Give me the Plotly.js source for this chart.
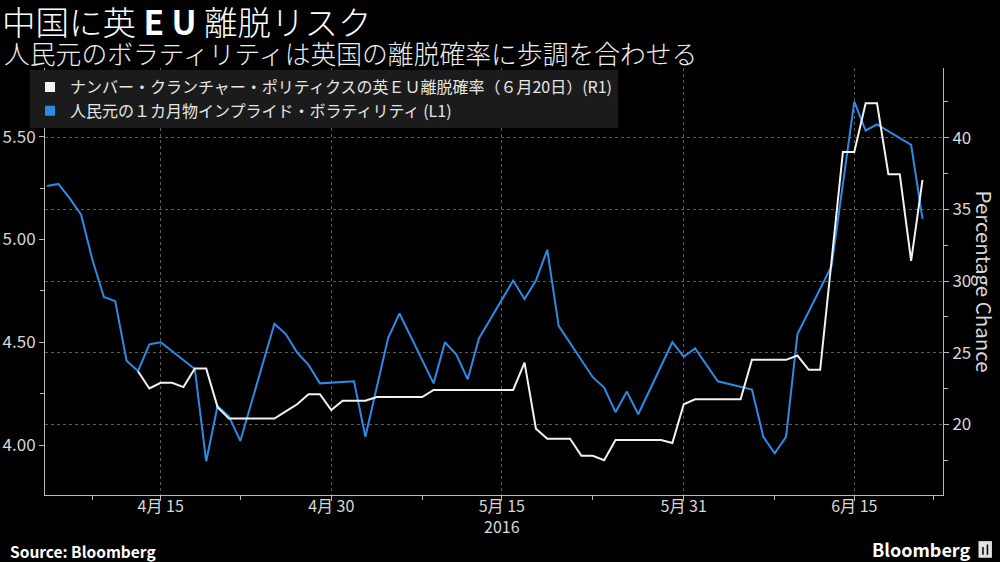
<!DOCTYPE html>
<html>
<head>
<meta charset="utf-8">
<script src="https://cdn.plot.ly/plotly-3.0.1.min.js"></script>
<style>
html,body{margin:0;padding:0;background:#000;}
#chart{width:1000px;height:562px;}
</style>
</head>
<body>
<div id="chart"></div>
<script>
// ---- data ----
const volDates = ['2016-04-05','2016-04-06','2016-04-07','2016-04-08','2016-04-09','2016-04-10','2016-04-11','2016-04-12','2016-04-13','2016-04-14','2016-04-15',
  '2016-04-18','2016-04-19','2016-04-20','2016-04-21','2016-04-22','2016-04-25','2016-04-26','2016-04-27','2016-04-28','2016-04-29',
  '2016-05-02','2016-05-03','2016-05-05','2016-05-06','2016-05-09','2016-05-10','2016-05-11','2016-05-12','2016-05-13',
  '2016-05-16','2016-05-17','2016-05-18','2016-05-19','2016-05-20','2016-05-23','2016-05-24','2016-05-25','2016-05-26','2016-05-27',
  '2016-05-30','2016-05-31','2016-06-01','2016-06-03','2016-06-06','2016-06-07','2016-06-08','2016-06-09','2016-06-10',
  '2016-06-13','2016-06-15','2016-06-16','2016-06-17','2016-06-20','2016-06-21'];
const volValues = [5.26,5.27,5.20,5.12,4.90,4.72,4.70,4.41,4.36,4.49,4.50,
  4.37,3.92,4.19,4.14,4.02,4.59,4.54,4.45,4.39,4.30,
  4.31,4.04,4.52,4.64,4.30,4.50,4.44,4.32,4.52,
  4.80,4.71,4.80,4.95,4.58,4.33,4.28,4.16,4.26,4.15,
  4.50,4.43,4.47,4.31,4.27,4.04,3.96,4.04,4.54,
  4.87,5.67,5.53,5.56,5.46,5.10];

const brexitDates = ['2016-04-13','2016-04-14','2016-04-15','2016-04-16','2016-04-17','2016-04-18','2016-04-19','2016-04-20','2016-04-21',
  '2016-04-25','2016-04-26','2016-04-27','2016-04-28','2016-04-29','2016-04-30','2016-05-01','2016-05-03','2016-05-04','2016-05-08','2016-05-09',
  '2016-05-16','2016-05-17','2016-05-18','2016-05-19','2016-05-21','2016-05-22','2016-05-23','2016-05-24','2016-05-25','2016-05-29','2016-05-30',
  '2016-05-31','2016-06-01','2016-06-05','2016-06-06','2016-06-09','2016-06-10','2016-06-11','2016-06-12','2016-06-14','2016-06-15',
  '2016-06-16','2016-06-17','2016-06-18','2016-06-19','2016-06-20','2016-06-21'];
const brexitValues = [23.7,22.5,22.9,22.9,22.6,23.9,23.9,21.2,20.4,
  20.4,20.9,21.4,22.1,22.1,21.0,21.65,21.65,21.9,21.9,22.4,
  22.4,24.3,19.7,19.0,19.0,17.8,17.8,17.5,18.9,18.9,18.7,
  21.4,21.75,21.75,24.5,24.5,24.8,23.8,23.8,39.0,39.0,
  42.4,42.4,37.45,37.45,31.4,37.05];

const xTickVals = ['2016-04-15','2016-04-30','2016-05-15','2016-05-31','2016-06-15'];
const xTickText = ['4月 15','4月 30','5月 15<br>2016','5月 31','6月 15'];
const xMinorTickVals = ['2016-04-09','2016-04-22','2016-05-08','2016-05-23','2016-06-08','2016-06-22'];
const leftTickVals = [4.00,4.50,5.00,5.50];
const leftTickText = ['4.00','4.50','5.00','5.50'];
const rightTickVals = [20,25,30,35,40];

const nameBrexit = 'ナンバー・クランチャー・ポリティクスの英ＥＵ離脱確率（６月20日）(R1)';
const nameVol = '人民元の１カ月物インプライド・ボラティリティ (L1)';

const titleText = '中国に英 <b>E U</b> 離脱リスク';
const subtitleText = '人民元のボラティリティは英国の離脱確率に歩調を合わせる';

// ---- style ----
const FONT = "'Noto Sans CJK JP', 'Noto Sans', sans-serif";
const BLUE = '#2d8be6';
const WHITE = '#f2f2f2';
const AXIS = '#b8b8b8';
const GRID = '#5a5a5a';

const traces = [
  {x: volDates, y: volValues, type: 'scatter', mode: 'lines', yaxis: 'y',
   line: {color: BLUE, width: 2}, showlegend: false, name: nameVol, hoverinfo: 'x+y'},
  {x: brexitDates, y: brexitValues, type: 'scatter', mode: 'lines', yaxis: 'y2',
   line: {color: WHITE, width: 2}, showlegend: false, name: nameBrexit, hoverinfo: 'x+y'},
  // legend swatches
  {x: [null], y: [null], type: 'scatter', mode: 'markers', yaxis: 'y2', name: nameBrexit,
   marker: {symbol: 'square', size: 10, color: WHITE}, showlegend: true},
  {x: [null], y: [null], type: 'scatter', mode: 'markers', yaxis: 'y', name: nameVol,
   marker: {symbol: 'square', size: 10, color: BLUE}, showlegend: true}
];

const layout = {
  width: 1000, height: 562,
  paper_bgcolor: '#000', plot_bgcolor: '#000',
  margin: {l: 45, r: 57, t: 68, b: 67},
  font: {family: FONT, color: '#d8d8d8', size: 15},
  title: {text: titleText, x: 0.002, xref: 'container', xanchor: 'left',
          y: 0.958, yref: 'container', yanchor: 'middle',
          font: {family: FONT, size: 33.5, color: '#ffffff', weight: 300}},
  xaxis: {type: 'date', range: ['2016-04-04 19:46', '2016-06-22 19:16'],
          tickmode: 'array', tickvals: xTickVals, ticktext: xTickText,
          showgrid: true, gridcolor: GRID, griddash: 'dot', gridwidth: 1,
          showline: true, linecolor: AXIS, linewidth: 1,
          ticks: 'outside', ticklen: 5, tickcolor: AXIS, ticklabelstandoff: -8,
          minor: {tickmode: 'array', tickvals: xMinorTickVals, ticks: 'outside', ticklen: 4, tickcolor: AXIS, showgrid: false},
          tickfont: {family: FONT, size: 16, color: '#d8d8d8'},
          zeroline: false, fixedrange: true},
  yaxis: {range: [3.757, 5.834], tickmode: 'array', tickvals: leftTickVals, ticktext: leftTickText,
          showgrid: false, showline: true, linecolor: AXIS, linewidth: 1,
          ticks: 'outside', ticklen: 5, tickcolor: AXIS,
          minor: {dtick: 0.25, tick0: 0, ticks: 'outside', ticklen: 4, tickcolor: AXIS, showgrid: false},
          tickfont: {family: FONT, size: 17, color: '#d8d8d8'},
          zeroline: false, fixedrange: true},
  yaxis2: {range: [15.07, 44.86], overlaying: 'y', side: 'right', tickmode: 'array', tickvals: rightTickVals,
          showgrid: true, gridcolor: GRID, griddash: 'dot', gridwidth: 1,
          showline: true, linecolor: AXIS, linewidth: 1,
          ticks: 'outside', ticklen: 5, tickcolor: AXIS,
          minor: {dtick: 2.5, tick0: 0, ticks: 'outside', ticklen: 4, tickcolor: AXIS, showgrid: false},
          tickfont: {family: FONT, size: 17, color: '#d8d8d8'},
          zeroline: false, fixedrange: true},
  showlegend: true,
  legend: {x: -0.0167, xanchor: 'left', y: 0.995, yanchor: 'top',
           bgcolor: '#1b1b1b', borderwidth: 0, traceorder: 'normal',
           font: {family: FONT, size: 16, color: '#e6e6e6'},
           itemclick: false, itemdoubleclick: false, tracegroupgap: 0},
  annotations: [
    {text: subtitleText, xref: 'paper', yref: 'paper', x: -0.048, y: 1.036,
     xanchor: 'left', yanchor: 'middle', showarrow: false,
     font: {family: FONT, size: 25.8, color: '#eeeeee', weight: 300}},
    {text: 'Percentage Chance', xref: 'paper', yref: 'paper', x: 1.0468, y: 0.50,
     xanchor: 'center', yanchor: 'middle', textangle: 90, showarrow: false,
     font: {family: FONT, size: 20.5, color: '#d8d8d8'}},
    {text: '<b>Source: Bloomberg</b>', xref: 'paper', yref: 'paper', x: -0.0412, y: -0.131,
     xanchor: 'left', yanchor: 'middle', showarrow: false,
     font: {family: FONT, size: 15.5, color: '#ffffff'}},
    {text: '<b>Bloomberg</b>', xref: 'paper', yref: 'paper', x: 1.032, y: -0.126,
     xanchor: 'right', yanchor: 'middle', showarrow: false,
     font: {family: FONT, size: 18, color: '#ffffff'}}
  ],
  shapes: [
    {type: 'rect', xref: 'paper', yref: 'paper', x0: 1.0395, x1: 1.0545, y0: -0.147, y1: -0.108,
     fillcolor: '#e0e0e0', line: {width: 0}},
    {type: 'line', xref: 'paper', yref: 'paper', x0: 1.0445, x1: 1.0445, y0: -0.140, y1: -0.122,
     line: {color: '#000', width: 1.5}},
    {type: 'line', xref: 'paper', yref: 'paper', x0: 1.0495, x1: 1.0495, y0: -0.140, y1: -0.116,
     line: {color: '#000', width: 1.5}}
  ]
};

Plotly.newPlot('chart', traces, layout, {displayModeBar: false, staticPlot: true});
</script>
</body>
</html>
